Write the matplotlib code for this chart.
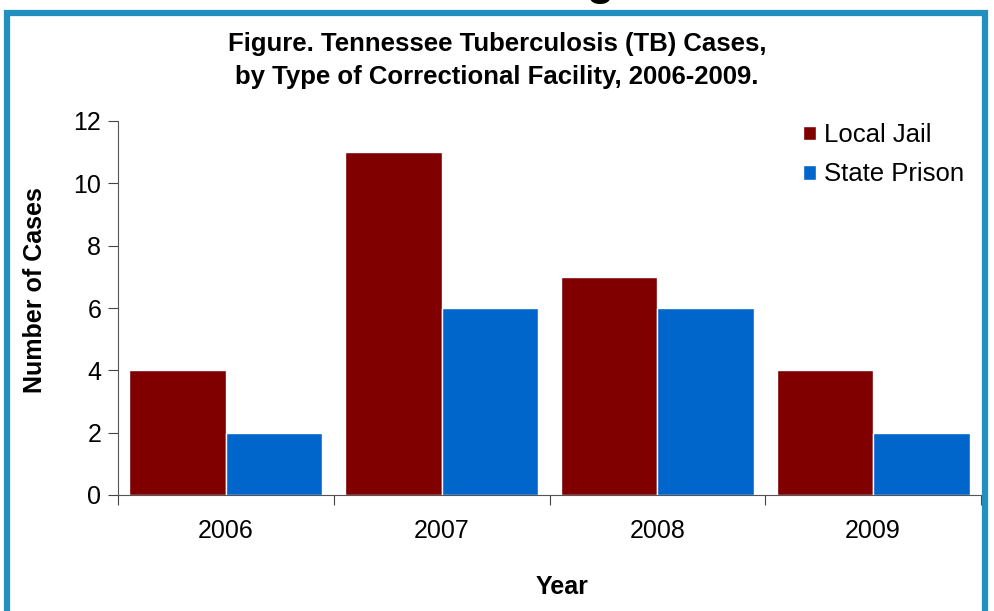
import numpy as np
import matplotlib.pyplot as plt
from matplotlib.patches import Rectangle

plt.rcParams['font.family'] = ['Liberation Sans', 'DejaVu Sans']

# data
years = ["2006", "2007", "2008", "2009"]
local_jail = [4, 11, 7, 4]
state_prison = [2, 6, 6, 2]

RED = "#800000"
BLUE = "#0066CC"
BORDER = "#2190BE"
W, H = 994, 611

fig = plt.figure(figsize=(9.94, 6.11), dpi=100)
ax = fig.add_axes([118 / W, 1 - 495 / H, (981 - 118) / W, (495 - 121) / H])

x = np.arange(len(years))
w = 0.447
ax.bar(x - w / 2, local_jail, w, color=RED, edgecolor="white", linewidth=1, label="Local Jail")
ax.bar(x + w / 2, state_prison, w, color=BLUE, edgecolor="white", linewidth=1, label="State Prison")

ax.set_xlim(-0.5, len(years) - 0.5)
ax.set_ylim(0, 12)
ax.set_yticks(range(0, 13, 2))
ax.set_xticks(np.arange(len(years) + 1) - 0.5)
ax.set_xticklabels([])
ax.set_xticks(x, minor=True)
ax.set_xticklabels(years, minor=True)
ax.tick_params(axis="x", which="major", direction="out", length=7, color="#444444")
ax.tick_params(axis="x", which="minor", length=0, pad=17, labelsize=18)
ax.tick_params(axis="y", direction="out", length=7, labelsize=18, pad=5, color="#444444")
for s in ["top", "right"]:
    ax.spines[s].set_visible(False)
for s in ["left", "bottom"]:
    ax.spines[s].set_color("#555555")

fig.text(35 / W, 1 - 290 / H, "Number of Cases", rotation=90, ha="center", va="center",
         fontsize=18, fontweight="bold")
fig.text(562 / W, 1 - 587 / H, "Year", ha="center", va="center", fontsize=18, fontweight="bold")

ax.legend(loc="upper left", bbox_to_anchor=(803 / W, 1 - 123 / H), bbox_transform=fig.transFigure,
          frameon=False, fontsize=18.5, borderpad=0, borderaxespad=0,
          handlelength=0.5, handleheight=0.5, handletextpad=0.3, labelspacing=0.6)

fig.text(0.5, 1 - 44 / H, "Figure. Tennessee Tuberculosis (TB) Cases,", ha="center", va="center",
         fontsize=18.5, fontweight="bold")
fig.text(0.5, 1 - 77 / H, "by Type of Correctional Facility, 2006-2009.", ha="center", va="center",
         fontsize=18.5, fontweight="bold")

# cut-off heading above the frame
fig.text(600 / W, 1 + 5 / H, "g", ha="center", va="baseline", fontsize=32, fontweight="bold")

# frame
fig.patches.append(Rectangle((7 / W, -0.05), (985 - 7) / W, 1.05 - 12.5 / H,
                             transform=fig.transFigure, fill=False, edgecolor=BORDER, linewidth=4.5))

fig.savefig("out.png", dpi=100)
